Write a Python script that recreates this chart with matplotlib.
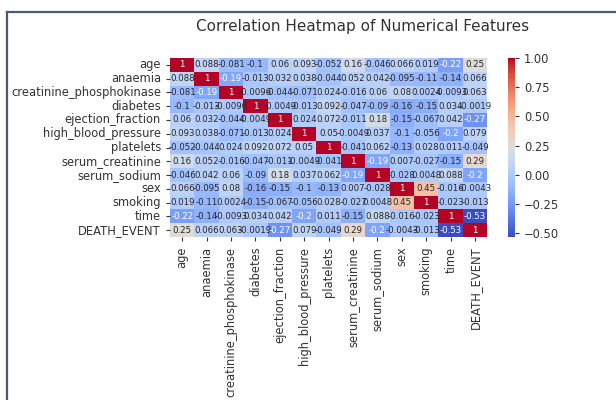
import numpy as np
import pandas as pd
import matplotlib
matplotlib.use("Agg")
import matplotlib.pyplot as plt
from matplotlib.lines import Line2D
import seaborn as sns

features = ['age', 'anaemia', 'creatinine_phosphokinase', 'diabetes',
            'ejection_fraction', 'high_blood_pressure', 'platelets',
            'serum_creatinine', 'serum_sodium', 'sex', 'smoking', 'time',
            'DEATH_EVENT']

# correlation values (row by row)
age      = [1, 0.088, -0.081, -0.1, 0.06, 0.093, -0.052, 0.16, -0.046, 0.066, 0.019, -0.22, 0.25]
anaemia  = [0.088, 1, -0.19, -0.013, 0.032, 0.038, -0.044, 0.052, 0.042, -0.095, -0.11, -0.14, 0.066]
cpk      = [-0.081, -0.19, 1, -0.0096, -0.044, -0.071, 0.024, -0.016, 0.06, 0.08, 0.0024, -0.0093, 0.063]
diabetes = [-0.1, -0.013, -0.0096, 1, -0.0049, -0.013, 0.092, -0.047, -0.09, -0.16, -0.15, 0.034, -0.0019]
ef       = [0.06, 0.032, -0.044, -0.0049, 1, 0.024, 0.072, -0.011, 0.18, -0.15, -0.067, 0.042, -0.27]
hbp      = [0.093, 0.038, -0.071, -0.013, 0.024, 1, 0.05, -0.0049, 0.037, -0.1, -0.056, -0.2, 0.079]
platelets = [-0.052, -0.044, 0.024, 0.092, 0.072, 0.05, 1, -0.041, 0.062, -0.13, 0.028, 0.011, -0.049]
s_creat  = [0.16, 0.052, -0.016, -0.047, -0.011, -0.0049, -0.041, 1, -0.19, 0.007, -0.027, -0.15, 0.29]
s_sodium = [-0.046, 0.042, 0.06, -0.09, 0.18, 0.037, 0.062, -0.19, 1, -0.028, 0.0048, 0.088, -0.2]
sex      = [0.066, -0.095, 0.08, -0.16, -0.15, -0.1, -0.13, 0.007, -0.028, 1, 0.45, -0.016, -0.0043]
smoking  = [0.019, -0.11, 0.0024, -0.15, -0.067, -0.056, 0.028, -0.027, 0.0048, 0.45, 1, -0.023, -0.013]
time     = [-0.22, -0.14, -0.0093, 0.034, 0.042, -0.2, 0.011, -0.15, 0.088, -0.016, -0.023, 1, -0.53]
death    = [0.25, 0.066, 0.063, -0.0019, -0.27, 0.079, -0.049, 0.29, -0.2, -0.0043, -0.013, -0.53, 1]

cbar_ticks = [-0.5, -0.25, 0.0, 0.25, 0.5, 0.75, 1.0]

corr = pd.DataFrame([age, anaemia, cpk, diabetes, ef, hbp, platelets, s_creat,
                     s_sodium, sex, smoking, time, death],
                    index=features, columns=features)

fig = plt.figure(figsize=(6.16, 4.0), dpi=100)
ax = fig.add_axes([0.276, 0.4075, 0.515, 0.4475])
cax = fig.add_axes([0.8247, 0.4075, 0.0114, 0.4475])

sns.heatmap(corr, annot=True, cmap='coolwarm', ax=ax, cbar_ax=cax,
            xticklabels=True, yticklabels=True,
            annot_kws={'fontsize': 6.2})

# title sits a bit right of the heatmap centre in the original screenshot
fig.text(0.588, 0.933, 'Correlation Heatmap of Numerical Features',
         fontsize=11, color='#333333', ha='center', va='center')
ax.tick_params(axis='both', labelsize=8.3, colors='#333333', length=3)
ax.tick_params(axis='x', rotation=90, pad=4)
ax.tick_params(axis='y', rotation=0)
cax.set_yticks(cbar_ticks)
cax.tick_params(labelsize=8.3, colors='#333333', length=3)

# screenshot frame lines (top and left)
fig.add_artist(Line2D([0.011, 1.0], [0.97, 0.97], color='#4a5a72', lw=1.6))
fig.add_artist(Line2D([0.011, 0.011], [0.0, 0.97], color='#4a5a72', lw=1.6))

fig.savefig('out.png', dpi=100)
